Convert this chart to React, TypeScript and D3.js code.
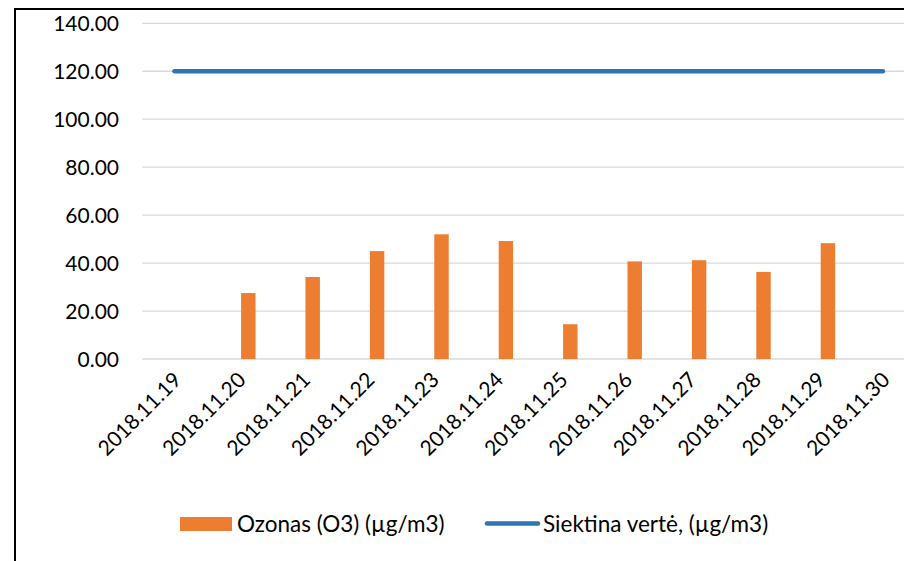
import React, { useEffect, useRef } from 'react';
import * as d3 from 'd3';

// dates on the x axis
const dates = [
  '2018.11.19', '2018.11.20', '2018.11.21', '2018.11.22', '2018.11.23', '2018.11.24',
  '2018.11.25', '2018.11.26', '2018.11.27', '2018.11.28', '2018.11.29', '2018.11.30',
];
// ozone daily values (null = no measurement)
const ozone: (number | null)[] = [null, 27.5, 34.2, 45.0, 52.0, 49.2, 14.5, 40.7, 41.2, 36.3, 48.3, null];
// target value line
const target = [120, 120, 120, 120, 120, 120, 120, 120, 120, 120, 120, 120];
const yTicks = [0, 20, 40, 60, 80, 100, 120, 140];

const ozoneName = 'Ozonas (O3) (µg/m3)';
const targetName = 'Siektina vertė, (µg/m3)';

export default function App() {
  const ref = useRef<SVGSVGElement>(null);

  useEffect(() => {
    const svg = d3.select(ref.current);
    svg.selectAll('*').remove();

    const font = 'Lato, "Noto Sans", sans-serif';
    const left = 142.3, top = 23.3, bottom = 359;

    const x = d3.scaleBand<string>()
      .domain(dates)
      .range([left, left + 64.4 * dates.length]);
    const y = d3.scaleLinear().domain([0, 140]).range([bottom, top]);
    const bw = x.bandwidth();

    // outer frame (cut off by the page on right and bottom)
    svg.append('rect')
      .attr('x', 15).attr('y', 9)
      .attr('width', 1200).attr('height', 1200)
      .attr('fill', 'none').attr('stroke', '#000').attr('stroke-width', 2);

    // gridlines
    svg.append('g').selectAll('line')
      .data(yTicks).enter().append('line')
      .attr('x1', left).attr('x2', left + 64.4 * dates.length)
      .attr('y1', d => y(d)).attr('y2', d => y(d))
      .attr('stroke', '#d9d9d9').attr('stroke-width', 1.3);

    // y labels
    svg.append('g').selectAll('text')
      .data(yTicks).enter().append('text')
      .attr('x', 119).attr('y', d => y(d))
      .attr('dy', '0.36em')
      .attr('text-anchor', 'end')
      .style('font-family', font).style('font-size', '21px').attr('fill', '#000')
      .text(d => d3.format('.2f')(d));

    // bars
    const pts = dates.map((d, i) => ({ d, v: ozone[i] })).filter(p => p.v !== null);
    svg.append('g').selectAll('rect')
      .data(pts).enter().append('rect')
      .attr('x', p => (x(p.d) as number) + bw * 0.534)
      .attr('width', bw * 0.224)
      .attr('y', p => y(p.v as number))
      .attr('height', p => y(0) - y(p.v as number))
      .attr('fill', '#ed7d31');

    // target line
    const line = d3.line<number>()
      .x((_, i) => (x(dates[i]) as number) + bw / 2)
      .y(v => y(v));
    svg.append('path')
      .datum(target)
      .attr('d', line)
      .attr('fill', 'none')
      .attr('stroke', '#2e75b6')
      .attr('stroke-width', 4.5)
      .attr('stroke-linecap', 'round');

    // x labels
    svg.append('g').selectAll('text')
      .data(dates).enter().append('text')
      .attr('transform', d => `translate(${(x(d) as number) + bw / 2 + 3}, ${bottom + 17}) rotate(-45)`)
      .attr('text-anchor', 'end')
      .attr('dy', '0.35em')
      .style('font-family', font).style('font-size', '21px').attr('fill', '#000')
      .text(d => d);

    // legend
    const lg = svg.append('g');
    lg.append('rect').attr('x', 180).attr('y', 517).attr('width', 52).attr('height', 14).attr('fill', '#ed7d31');
    lg.append('text').attr('x', 237).attr('y', 532)
      .style('font-family', font).style('font-size', '22.5px').text(ozoneName);
    lg.append('line').attr('x1', 487).attr('x2', 538).attr('y1', 523.5).attr('y2', 523.5)
      .attr('stroke', '#2e75b6').attr('stroke-width', 4.5).attr('stroke-linecap', 'round');
    lg.append('text').attr('x', 543).attr('y', 532)
      .style('font-family', font).style('font-size', '22.5px').text(targetName);
  }, []);

  return (
    <svg ref={ref} width={904} height={561}
      style={{ position: 'absolute', left: 0, top: 0, background: '#fff' }} />
  );
}
